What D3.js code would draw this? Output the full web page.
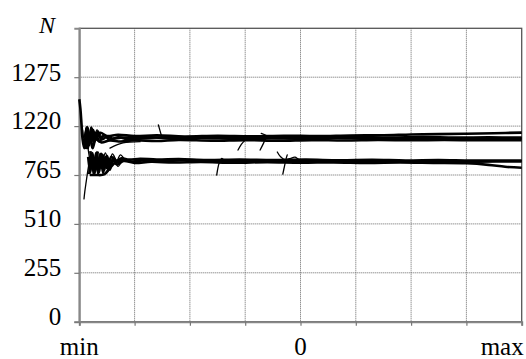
<!DOCTYPE html>
<html>
<head>
<meta charset="utf-8">
<script src="https://cdn.jsdelivr.net/npm/d3@7"></script>
<style>
  html, body { margin: 0; padding: 0; background: #fff; }
  svg { display: block; }
  svg text { font-family: "Liberation Serif", "Times New Roman", Times, serif !important; }
</style>
</head>
<body>
<svg id="chart" width="526" height="359"></svg>
<script>
// ---- data (x in grid units 0..8 between "min" and "max", y = N) ----
const yTickValues = [0, 255, 510, 765, 1020, 1275];
const yTickLabels = ["0", "255", "510", "765", "1220", "1275"];
const xTickValues = [0, 1, 2, 3, 4, 5, 6, 7, 8];
const xTickLabels = { 0: "min", 4: "0", 8: "max" };
const yAxisTitle = "N";

// upper bundle
const upper1 = [[0.0,1160],[0.02,1110],[0.04,1030],[0.06,950],[0.09,905],[0.12,985],[0.15,1012],[0.19,935],[0.23,1005],[0.28,945],[0.33,990],[0.4,950],[0.5,965],[0.6,955],[0.75,960],[1.0,957],[1.3,962],[1.7,955],[2.2,960],[2.8,956],[3.4,958],[4.0,955],[4.6,958],[5.2,955],[5.8,957],[6.4,954],[7.0,956],[7.6,954],[8.0,955]];
const upper2 = [[0.1,960],[0.14,1015],[0.18,920],[0.22,1012],[0.26,930],[0.3,985],[0.36,940],[0.45,972],[0.55,948],[0.7,962],[0.9,950],[1.2,958],[1.6,962],[2.0,958],[2.6,962],[3.2,960],[3.8,963],[4.4,960],[5.0,962],[5.6,960],[6.2,962],[6.8,960],[7.4,961],[8.0,960]];
const upper3 = [[0.12,900],[0.16,990],[0.2,940],[0.25,1000],[0.3,955],[0.38,985],[0.5,968],[0.7,975],[1.0,968],[1.4,972],[1.9,966],[2.5,970],[3.1,967],[3.7,970],[4.3,968],[4.9,971],[5.5,972],[6.0,976],[6.5,978],[7.0,980],[7.5,983],[8.0,986]];
const upper4 = [[0.15,900],[0.2,960],[0.24,905],[0.3,950],[0.4,935],[0.55,945],[0.75,940],[1.0,946],[1.4,942],[1.8,948],[2.4,944],[3.0,947],[3.6,944],[4.2,947],[4.8,945],[5.4,948],[6.0,946],[6.6,948],[7.2,946],[8.0,947]];

// lower bundle
const lower1 = [[0.16,860],[0.2,780],[0.24,880],[0.28,775],[0.32,885],[0.36,780],[0.4,875],[0.45,790],[0.5,865],[0.56,805],[0.62,850],[0.7,830],[0.8,845],[0.95,835],[1.2,843],[1.5,838],[1.9,842],[2.4,836],[3.0,840],[3.6,836],[4.2,839],[4.8,836],[5.4,838],[6.0,835],[6.6,837],[7.2,835],[8.0,836]];
const lower2 = [[0.18,770],[0.22,870],[0.26,770],[0.3,880],[0.34,770],[0.38,875],[0.43,775],[0.48,860],[0.53,790],[0.6,845],[0.68,820],[0.8,838],[1.0,828],[1.3,834],[1.7,830],[2.2,833],[2.8,829],[3.4,832],[4.0,829],[4.6,831],[5.2,828],[5.8,830],[6.4,828],[7.0,826],[7.4,818],[7.7,808],[8.0,803]];
const lower3 = [[0.2,890],[0.25,800],[0.3,860],[0.35,800],[0.42,870],[0.5,800],[0.58,860],[0.66,835],[0.76,852],[0.9,845],[1.1,850],[1.4,845],[1.8,848],[2.3,843],[2.9,846],[3.5,843],[4.1,845],[4.7,842],[5.3,844],[5.9,841],[6.5,843],[7.1,840],[8.0,841]];
const lower4 = [[0.19,765],[0.3,765],[0.45,768],[0.55,800],[0.65,830],[0.8,840]];

// thin transient / stray trajectories
const fall1 = [[0.085,640],[0.1,680],[0.125,730],[0.15,780],[0.18,830],[0.22,870]];
const bridge1 = [[0.555,905],[0.79,932],[1.1,939]];
const cross1 = [[0.12,1010],[0.14,950],[0.17,880],[0.2,830]];
const lattice1 = [[0.2,800],[0.26,860],[0.32,790],[0.38,865],[0.44,800],[0.5,850],[0.56,790],[0.62,860],[0.7,810],[0.78,850]];
const lattice2 = [[0.22,880],[0.28,820],[0.34,885],[0.41,815],[0.47,880],[0.54,830],[0.6,875],[0.68,840],[0.74,870],[0.82,845]];
const upperHatch = [[0.06,1000],[0.1,930],[0.13,1015],[0.17,950],[0.21,1015],[0.27,960],[0.32,1000],[0.4,965]];
const stray1 = [[1.43,1026],[1.46,995],[1.49,966]];
const stray2 = [[2.485,765],[2.53,828],[2.58,852],[2.62,836]];
const stray3 = [[2.87,895],[2.93,925],[3.0,947]];
const stray4 = [[3.27,895],[3.33,930],[3.37,955]];
const stray5 = [[3.29,982],[3.41,963],[3.3,945]];
const stray6 = [[3.68,770],[3.71,810],[3.74,850],[3.76,870]];
const stray7 = [[3.58,885],[3.64,860],[3.72,845],[3.8,850],[3.9,858],[3.95,850],[4.0,840]];

const thickSeries = [upper1, upper2, upper3, upper4, lower1, lower2, lower3, lower4];
const thinSeries = [fall1, bridge1, cross1, lattice1, lattice2, upperHatch, stray1, stray2, stray3, stray4, stray5, stray6, stray7];

// ---- drawing ----
(function () {
const FONT = "'Liberation Serif', 'Times New Roman', Times, serif";
const svg = d3.select("#chart").attr("font-family", FONT);
const pLeft = 79.3, pRight = 521.7, pTop = 28.3, pBottom = 321.7;
const x = d3.scaleLinear().domain([0, 8]).range([pLeft, pRight]);
const y = d3.scaleLinear().domain([0, 1530]).range([pBottom, pTop]);

// gridlines
const grid = svg.append("g");
grid.selectAll("line.h").data(yTickValues.filter(d => d > 0)).join("line")
  .attr("class", "h")
  .attr("x1", pLeft).attr("x2", pRight)
  .attr("y1", d => y(d)).attr("y2", d => y(d))
  .attr("stroke", "#666").attr("stroke-width", 1).attr("stroke-dasharray", "1,1");
grid.selectAll("line.v").data(xTickValues.filter(d => d > 0 && d < 8)).join("line")
  .attr("class", "v")
  .attr("y1", pTop).attr("y2", pBottom)
  .attr("x1", d => x(d)).attr("x2", d => x(d))
  .attr("stroke", "#666").attr("stroke-width", 1).attr("stroke-dasharray", "1,1");

// border
svg.append("rect").attr("x", pLeft).attr("y", pTop)
  .attr("width", pRight - pLeft).attr("height", pBottom - pTop)
  .attr("fill", "none").attr("stroke", "#555").attr("stroke-width", 1.3);

// axes
const yAxis = d3.axisLeft(y).tickValues(yTickValues)
  .tickFormat((d, i) => yTickLabels[i]).tickSize(5).tickPadding(13);
const gy = svg.append("g").attr("transform", `translate(${pLeft},0)`).call(yAxis)
  .attr("font-family", FONT).attr("font-size", 25);
const xAxis = d3.axisBottom(x).tickValues(xTickValues)
  .tickFormat(d => "").tickSize(4);
const gx = svg.append("g").attr("transform", `translate(0,${pBottom})`).call(xAxis);
[gy, gx].forEach(g => {
  g.select(".domain").attr("stroke", "#888").attr("stroke-width", 2);
  g.selectAll(".tick line").attr("stroke", "#777").attr("stroke-width", 1.2);
});
gy.selectAll(".tick text")
  .attr("font-family", FONT).attr("font-size", 25)
  .attr("fill", "#000").attr("dy", null).attr("y", 0)
  .attr("dominant-baseline", "alphabetic").attr("transform", "translate(0,2.8)");

// x labels
svg.append("g").selectAll("text").data(xTickValues.filter(d => xTickLabels[d] !== undefined)).join("text")
  .attr("x", d => d === 8 ? x(d) + 2 : x(d))
  .attr("y", 355)
  .attr("text-anchor", d => d === 8 ? "end" : "middle")
  .attr("font-family", FONT)
  .attr("font-size", 25).attr("fill", "#000")
  .text(d => xTickLabels[d]);

// y title
svg.append("text").attr("x", 55).attr("y", 33).attr("text-anchor", "end")
  .attr("font-family", FONT)
  .attr("font-size", 24).attr("font-style", "italic").attr("fill", "#000")
  .text(yAxisTitle);

// trajectories
const line = d3.line().x(d => x(d[0])).y(d => y(d[1])).curve(d3.curveCatmullRom.alpha(0.5));
const plot = svg.append("g");
plot.selectAll("path.thick").data(thickSeries).join("path")
  .attr("class", "thick")
  .attr("d", line).attr("fill", "none").attr("stroke", "#000")
  .attr("stroke-width", 2.6).attr("stroke-linejoin", "round");
plot.selectAll("path.thin").data(thinSeries).join("path")
  .attr("class", "thin")
  .attr("d", line).attr("fill", "none").attr("stroke", "#000")
  .attr("stroke-width", 1.3).attr("stroke-linecap", "round");
})();
</script>
</body>
</html>
